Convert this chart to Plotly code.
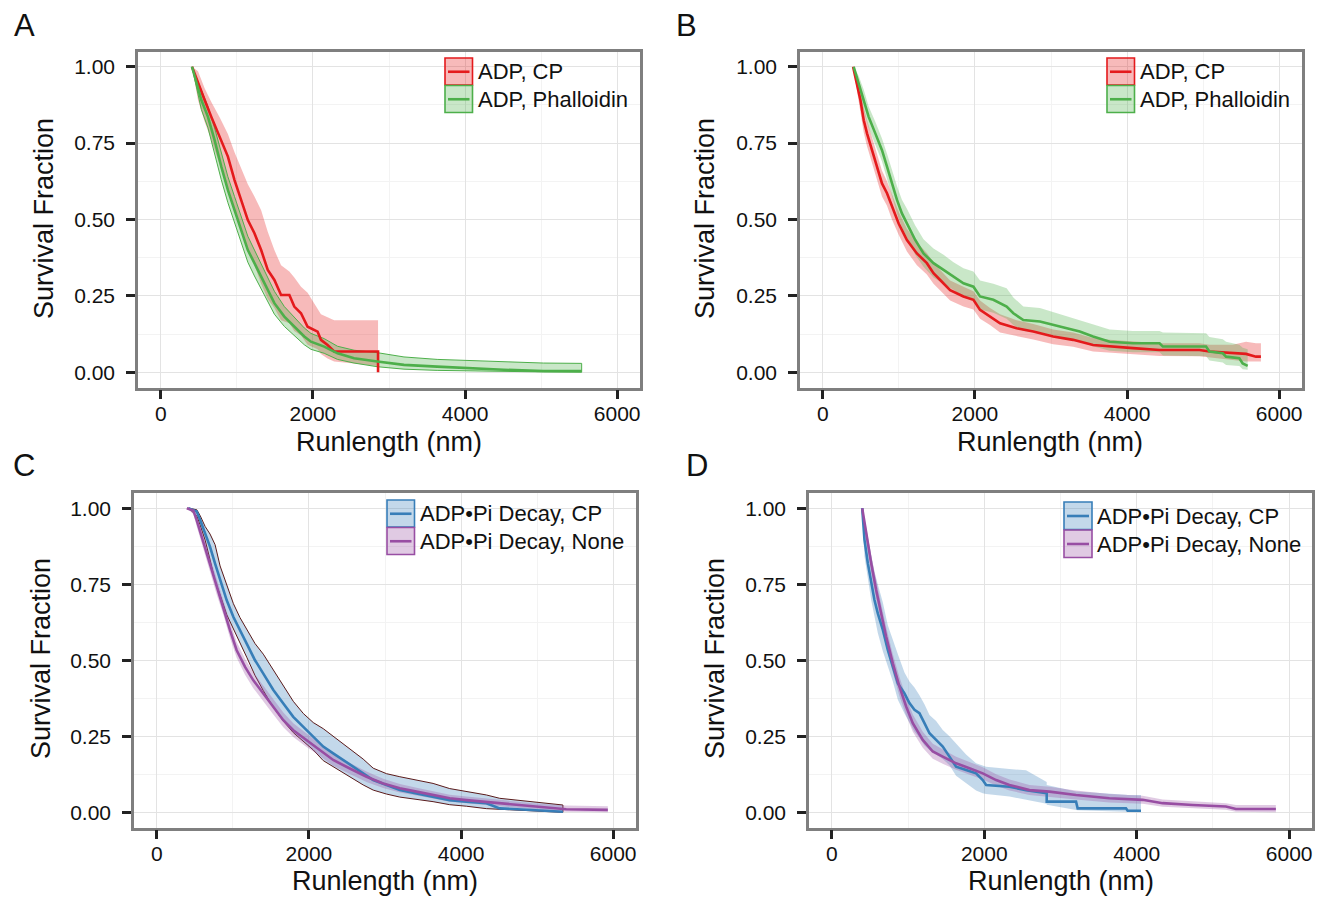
import plotly.graph_objects as go

W, H = 1317, 897

# ---------------- data ----------------
# Panel A
a_cp_x = [410, 489, 576, 664, 773, 882, 969, 1057, 1144, 1231, 1319, 1406, 1493, 1581, 1690, 1755, 1843, 1930, 2061, 2105, 2192, 2279, 2856, 2856]
a_cp_s = [1.0, .945, .891, .836, .771, .706, .629, .564, .498, .455, .400, .335, .302, .253, .253, .215, .193, .149, .133, .106, .089, .068, .068, 0.0]
a_cp_hi = [1.0, .985, .93, .885, .835, .78, .72, .665, .615, .575, .53, .46, .40, .35, .33, .31, .28, .26, .21, .19, .18, .17, .17, .17]
a_cp_lo = [1.0, .89, .82, .76, .68, .60, .53, .46, .40, .35, .29, .24, .21, .17, .16, .135, .12, .09, .075, .06, .045, .035, .02, .02]

a_ph_x = [410, 533, 620, 707, 795, 882, 969, 1057, 1144, 1231, 1362, 1493, 1624, 1755, 1886, 1974, 2148, 2323, 2541, 2847, 3197, 3633, 4070, 4507, 5031, 5533]
a_ph_s = [1.0, .891, .836, .760, .673, .596, .531, .466, .400, .357, .291, .226, .182, .149, .117, .100, .084, .062, .046, .035, .024, .0185, .013, .008, .004, .004]
a_ph_hi = [1.0, .92, .87, .80, .715, .64, .575, .51, .445, .40, .335, .265, .215, .18, .145, .127, .11, .085, .072, .064, .05, .042, .038, .034, .03, .029]
a_ph_lo = [1.0, .86, .80, .72, .63, .555, .49, .425, .36, .315, .25, .19, .15, .12, .09, .075, .062, .042, .03, .018, .01, .006, .004, .002, .001, .0]

# Panel B
b_cp_x = [398, 450, 494, 538, 581, 647, 712, 778, 844, 909, 997, 1106, 1237, 1368, 1455, 1543, 1674, 1849, 1980, 2067, 2198, 2330, 2548, 2767, 3029, 3291, 3553, 3772, 4078, 4427, 4952, 5083, 5389, 5564, 5695, 5760]
b_cp_s = [1.0, .945, .891, .825, .782, .727, .673, .618, .586, .542, .487, .433, .389, .357, .324, .302, .269, .248, .237, .204, .182, .160, .144, .133, .117, .106, .089, .084, .079, .073, .073, .068, .062, .060, .051, .051]
b_cp_hi = [1.0, .97, .925, .865, .825, .77, .715, .66, .625, .58, .525, .47, .425, .39, .36, .335, .30, .28, .265, .235, .21, .19, .17, .158, .14, .13, .112, .106, .10, .095, .095, .09, .09, .10, .095, .095]
b_cp_lo = [1.0, .91, .855, .785, .74, .685, .63, .575, .545, .50, .45, .395, .35, .32, .29, .27, .235, .215, .205, .175, .155, .13, .118, .107, .092, .083, .068, .063, .058, .053, .052, .048, .04, .035, .035, .035]

b_ph_x = [406, 472, 538, 603, 690, 778, 844, 909, 975, 1040, 1106, 1215, 1324, 1455, 1587, 1718, 1849, 1980, 2067, 2242, 2417, 2505, 2636, 2854, 3116, 3378, 3553, 3772, 4078, 4427, 4471, 5039, 5083, 5258, 5302, 5476, 5520, 5586]
b_ph_s = [1.0, .945, .891, .836, .782, .727, .673, .618, .564, .520, .487, .433, .389, .357, .335, .313, .291, .280, .248, .237, .215, .193, .171, .166, .149, .133, .117, .100, .095, .095, .084, .084, .068, .062, .051, .046, .029, .021]
b_ph_hi = [1.0, .97, .925, .87, .82, .765, .715, .66, .61, .565, .535, .48, .435, .405, .385, .36, .34, .33, .30, .29, .275, .245, .215, .21, .19, .172, .158, .14, .135, .135, .13, .128, .115, .108, .10, .09, .08, .075]
b_ph_lo = [1.0, .915, .855, .80, .745, .69, .63, .575, .52, .475, .44, .385, .345, .31, .29, .27, .245, .235, .205, .195, .175, .155, .135, .13, .115, .10, .085, .07, .065, .065, .055, .052, .038, .032, .024, .02, .01, .008]

# Panel C
c_cp_x = [416, 525, 569, 635, 700, 766, 832, 919, 1007, 1094, 1182, 1291, 1400, 1532, 1663, 1794, 1926, 2057, 2188, 2319, 2451, 2582, 2713, 2845, 3020, 3195, 3414, 3632, 3851, 4070, 4333, 4508, 4945, 5339]
c_cp_s = [1.0, .989, .962, .918, .873, .818, .763, .697, .642, .598, .555, .500, .456, .402, .358, .314, .281, .248, .216, .194, .172, .150, .128, .106, .090, .073, .062, .051, .040, .035, .030, .013, .008, .002]
c_cp_hi = [1.0, .995, .976, .94, .915, .88, .81, .745, .686, .64, .60, .555, .52, .468, .415, .365, .325, .295, .275, .25, .226, .20, .175, .145, .127, .117, .105, .095, .078, .068, .057, .046, .035, .024]
c_cp_lo = [1.0, .975, .945, .895, .83, .76, .715, .65, .60, .555, .51, .45, .40, .345, .30, .262, .235, .205, .17, .15, .13, .11, .09, .073, .06, .05, .042, .035, .025, .02, .012, .008, .004, .0]

c_no_x = [394, 481, 525, 591, 656, 722, 788, 875, 963, 1050, 1160, 1269, 1400, 1532, 1663, 1794, 1969, 2144, 2319, 2538, 2757, 2976, 3195, 3414, 3632, 3851, 4070, 4508, 4945, 5383, 5930]
c_no_s = [1.0, .992, .960, .905, .850, .795, .741, .675, .598, .533, .478, .434, .391, .347, .303, .270, .237, .205, .172, .144, .117, .095, .079, .068, .057, .046, .040, .030, .019, .010, .008]
c_no_hi = [1.0, .998, .975, .93, .875, .82, .765, .70, .625, .56, .505, .46, .415, .372, .328, .293, .26, .225, .192, .162, .134, .11, .093, .081, .07, .058, .052, .041, .03, .022, .02]
c_no_lo = [1.0, .98, .94, .88, .825, .77, .715, .65, .572, .508, .452, .408, .366, .322, .28, .248, .215, .185, .153, .126, .1, .08, .065, .055, .045, .035, .029, .02, .01, .002, .0]

# Panel D
d_cp_x = [398, 428, 472, 516, 559, 603, 669, 734, 800, 866, 953, 1018, 1084, 1149, 1215, 1281, 1368, 1455, 1543, 1630, 1761, 1892, 1980, 2024, 2330, 2548, 2819, 2819, 3204, 3225, 3859, 3881, 4056]
d_cp_s = [1.0, .896, .819, .753, .698, .654, .600, .534, .479, .424, .391, .359, .337, .326, .293, .260, .238, .216, .183, .150, .139, .128, .106, .090, .084, .073, .063, .035, .035, .013, .013, .005, .005]
d_cp_hi = [1.0, .96, .905, .845, .79, .75, .69, .615, .565, .52, .46, .43, .41, .385, .355, .32, .30, .271, .25, .227, .19, .161, .155, .15, .142, .138, .10, .09, .068, .068, .058, .057, .057]
d_cp_lo = [1.0, .841, .77, .698, .64, .59, .53, .48, .43, .37, .325, .293, .265, .245, .22, .205, .19, .175, .155, .12, .095, .072, .063, .06, .052, .042, .028, .025, .008, .007, .002, .001, .0]

d_no_x = [398, 450, 516, 581, 647, 712, 800, 887, 975, 1062, 1193, 1324, 1455, 1630, 1805, 1980, 2155, 2330, 2592, 2854, 3204, 3641, 4078, 4340, 4733, 5170, 5302, 5826]
d_no_s = [1.0, .918, .819, .731, .655, .578, .490, .413, .348, .293, .238, .200, .183, .161, .145, .128, .106, .090, .073, .068, .057, .046, .041, .030, .024, .019, .011, .011]
d_no_hi = [1.0, .94, .845, .76, .685, .61, .52, .445, .378, .322, .265, .225, .207, .183, .165, .148, .125, .108, .09, .084, .072, .06, .054, .042, .036, .03, .024, .024]
d_no_lo = [1.0, .895, .79, .70, .625, .545, .46, .382, .318, .265, .212, .176, .16, .14, .125, .108, .088, .072, .057, .052, .042, .032, .028, .018, .013, .008, .002, .0]

x_ticks = [0, 2000, 4000, 6000]
y_ticks = [0.0, 0.25, 0.5, 0.75, 1.0]
y_ticklabels = ["0.00", "0.25", "0.50", "0.75", "1.00"]
x_title = "Runlength (nm)"
y_title = "Survival Fraction"

RED, GREEN, BLUE, PURPLE = "#E41A1C", "#4DAF4A", "#377EB8", "#984EA3"


def rgba(h, a):
    h = h.lstrip("#")
    return "rgba(%d,%d,%d,%.2f)" % (int(h[0:2], 16), int(h[2:4], 16), int(h[4:6], 16), a)


panels = [
    dict(letter="A", letter_pos=(24, 25),
         series=[("ADP, CP", a_cp_x, a_cp_s, a_cp_lo, a_cp_hi, RED, None),
                 ("ADP, Phalloidin", a_ph_x, a_ph_s, a_ph_lo, a_ph_hi, GREEN, GREEN)],
         box=(138, 640, 51.5, 387.5), legend=(445, 58, 27.5, 22), xt=(389, 442), yt=(44, 219)),
    dict(letter="B", letter_pos=(686, 25),
         series=[("ADP, CP", b_cp_x, b_cp_s, b_cp_lo, b_cp_hi, RED, None),
                 ("ADP, Phalloidin", b_ph_x, b_ph_s, b_ph_lo, b_ph_hi, GREEN, None)],
         box=(800, 1302, 51.5, 387.5), legend=(1107, 58, 27.5, 22), xt=(1050, 442), yt=(705, 219)),
    dict(letter="C", letter_pos=(24, 466),
         series=[("ADP•Pi Decay, CP", c_cp_x, c_cp_s, c_cp_lo, c_cp_hi, BLUE, "#5a1a1a"),
                 ("ADP•Pi Decay, None", c_no_x, c_no_s, c_no_lo, c_no_hi, PURPLE, None)],
         box=(134, 636, 493, 827.5), legend=(387, 500, 27.5, 22), xt=(385, 881), yt=(41, 659)),
    dict(letter="D", letter_pos=(697, 466),
         series=[("ADP•Pi Decay, CP", d_cp_x, d_cp_s, d_cp_lo, d_cp_hi, BLUE, None),
                 ("ADP•Pi Decay, None", d_no_x, d_no_s, d_no_lo, d_no_hi, PURPLE, None)],
         box=(809, 1312, 493, 827.5), legend=(1064, 502, 28, 22), xt=(1061, 881), yt=(715, 659)),
]

FONT = "Liberation Sans, Arial, Helvetica, sans-serif"


def fx(p):
    return p / W


def fy(p):
    return 1 - p / H


fig = go.Figure()
shapes = []
annotations = []

for i, p in enumerate(panels):
    k = "" if i == 0 else str(i + 1)
    xa, ya = "x" + k, "y" + k
    for (lab, xs, s, lo, hi, col, outline) in p["series"]:
        fig.add_trace(go.Scatter(
            x=list(xs) + list(xs)[::-1], y=list(hi) + list(lo)[::-1],
            fill="toself", fillcolor=rgba(col, 0.3), mode="lines",
            line=dict(width=1 if outline else 0, color=outline if outline else rgba(col, 0)),
            xaxis=xa, yaxis=ya, showlegend=False, hoverinfo="skip"))
    for (lab, xs, s, lo, hi, col, outline) in p["series"]:
        fig.add_trace(go.Scatter(x=xs, y=s, mode="lines", line=dict(color=col, width=2.6),
                                 name=lab, xaxis=xa, yaxis=ya, showlegend=False))
    l, r, t, b = p["box"]
    common = dict(showline=True, mirror=True, linecolor="#7f7f7f", linewidth=2.5,
                  ticks="outside", ticklen=9, tickwidth=2.5, tickcolor="#222222",
                  showgrid=True, gridcolor="#e3e3e3", gridwidth=1.3, zeroline=False,
                  tickfont=dict(family=FONT, size=21, color="#111111"))
    fig.layout["xaxis" + k] = dict(common, domain=[fx(l), fx(r)], range=[-300, 6300], anchor=ya,
                                   tickmode="array", tickvals=x_ticks, ticklabelstandoff=-3,
                                   minor=dict(tickmode="array", tickvals=[1000, 3000, 5000], showgrid=True,
                                              gridcolor="#f3f3f3", gridwidth=1, ticks=""))
    fig.layout["yaxis" + k] = dict(common, domain=[fy(b), fy(t)], range=[-0.05, 1.05], anchor=xa,
                                   tickmode="array", tickvals=y_ticks, ticktext=y_ticklabels,
                                   ticklabelstandoff=7,
                                   minor=dict(tickmode="array", tickvals=[0.125, 0.375, 0.625, 0.875],
                                              showgrid=True, gridcolor="#f3f3f3", gridwidth=1, ticks=""))
    annotations.append(dict(text=x_title, x=fx(p["xt"][0]), y=fy(p["xt"][1]), xref="paper", yref="paper",
                            showarrow=False, xanchor="center", yanchor="middle",
                            font=dict(family=FONT, size=27, color="#111111")))
    annotations.append(dict(text=y_title, x=fx(p["yt"][0]), y=fy(p["yt"][1]), xref="paper", yref="paper",
                            showarrow=False, xanchor="center", yanchor="middle", textangle=-90,
                            font=dict(family=FONT, size=27, color="#111111")))
    annotations.append(dict(text=p["letter"], x=fx(p["letter_pos"][0]), y=fy(p["letter_pos"][1]),
                            xref="paper", yref="paper", showarrow=False, xanchor="center", yanchor="middle",
                            font=dict(family=FONT, size=31, color="#111111")))
    lx, ly, ks, fs = p["legend"]
    for j, (lab, xs, s, lo, hi, col, outline) in enumerate(p["series"]):
        y0 = ly + j * ks
        shapes.append(dict(type="rect", xref="paper", yref="paper", x0=fx(lx), x1=fx(lx + ks),
                           y0=fy(y0 + ks - 0.5), y1=fy(y0), fillcolor=rgba(col, 0.3),
                           line=dict(color=col, width=1.6)))
        shapes.append(dict(type="line", xref="paper", yref="paper", x0=fx(lx + 3), x1=fx(lx + ks - 3),
                           y0=fy(y0 + ks / 2), y1=fy(y0 + ks / 2), line=dict(color=col, width=2.6)))
        annotations.append(dict(text=lab, x=fx(lx + ks + 3), y=fy(y0 + ks / 2), xref="paper", yref="paper",
                                showarrow=False, xanchor="left", yanchor="middle",
                                font=dict(family=FONT, size=fs, color="#111111")))

fig.update_layout(width=W, height=H, margin=dict(l=0, r=0, t=0, b=0),
                  paper_bgcolor="white", plot_bgcolor="white", showlegend=False,
                  shapes=shapes, annotations=annotations)

fig.write_html("out.html", config={"displayModeBar": False},
               post_script="document.body.style.margin='0';document.body.style.padding='0';"
                           "document.body.style.overflow='hidden';")
